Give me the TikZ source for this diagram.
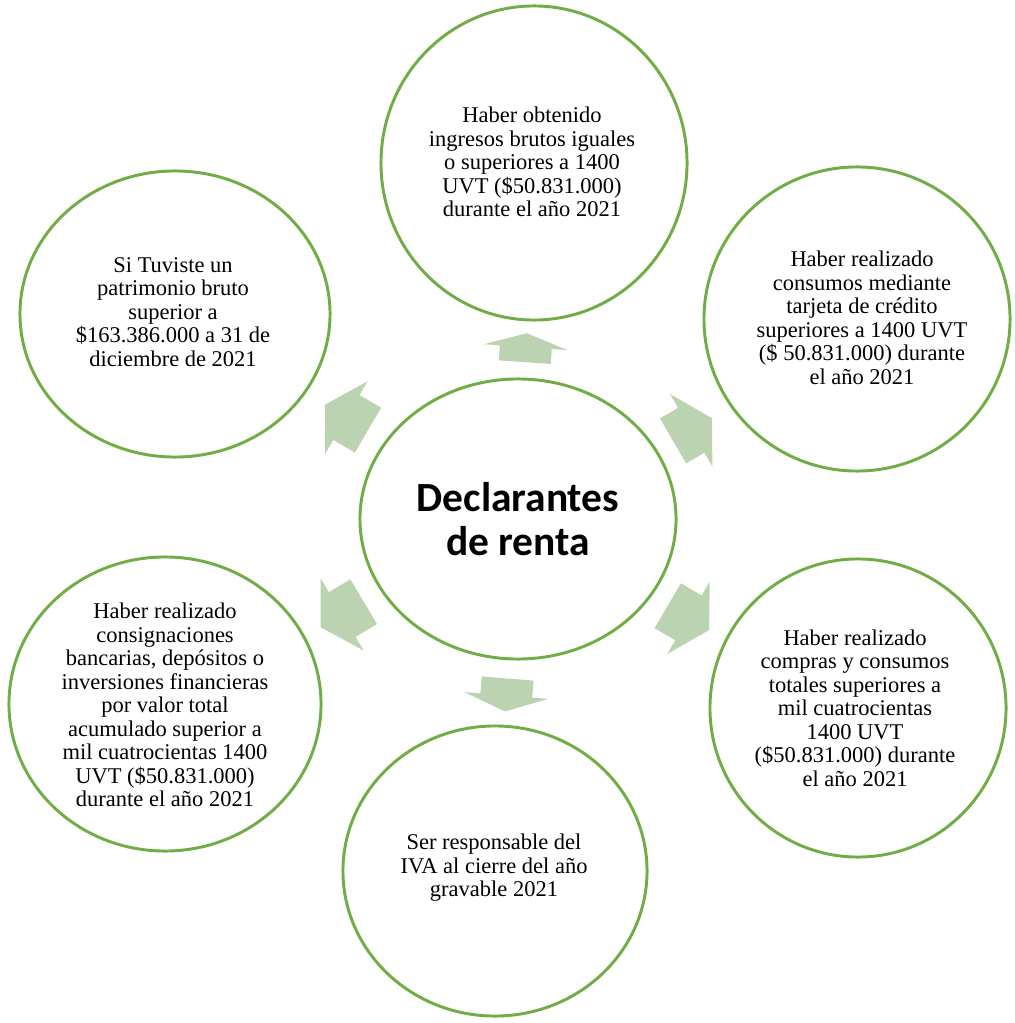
\documentclass[tikz,border=0pt]{standalone}
\usepackage{fontspec}
\setmainfont{Liberation Serif}
\newfontfamily\calibri{Carlito}
\usetikzlibrary{shapes.geometric}
\definecolor{ring_green}{RGB}{112, 173, 71}
\definecolor{arrow_green}{RGB}{187, 211, 177}
\tikzstyle{bubble}=[ellipse,draw=ring_green,line width=2.1pt,inner sep=0pt]
\tikzstyle{hub}=[bubble,align=center,font=\calibri\bfseries\fontsize{29.5}{31.5}\selectfont]
\tikzstyle{txt}=[align=center,inner sep=0pt,font=\fontsize{16}{16.7}\selectfont]
\tikzstyle{blk}=[fill=arrow_green]
% block arrow: base x, base y, angle, head length, shaft length
\newcommand{\blockarrow}[5]{\fill[style=blk,shift={(#1,#2)},rotate=#3]
  (-#5,-26) -- (0,-26) -- (0,-42) -- (#4,0) -- (0,42) -- (0,26) -- (-#5,26) -- cycle;}

\begin{document}
\begin{tikzpicture}[x=0.025cm,y=-0.025cm]
            \useasboundingbox (0,0) rectangle (1014,1023);
            \node [style=hub,minimum width=7.9cm,minimum height=7cm] (0) at (518,519) {Declarantes\\de renta};
            \node [style=bubble,minimum width=7.65cm,minimum height=7.85cm] (1) at (534,163) {};
            \node [style=bubble,minimum width=7.65cm,minimum height=7.6cm] (2) at (857,319) {};
            \node [style=bubble,minimum width=7.4cm,minimum height=7.45cm] (3) at (858,708) {};
            \node [style=bubble,minimum width=7.6cm,minimum height=7.25cm] (4) at (495,871) {};
            \node [style=bubble,minimum width=7.8cm,minimum height=7.35cm] (5) at (165,704) {};
            \node [style=bubble,minimum width=7.75cm,minimum height=7.15cm] (6) at (175,314) {};
            \node [style=txt] (7) at (532,162) {Haber obtenido\\ingresos brutos iguales\\o superiores a 1400\\UVT (\$50.831.000)\\durante el año 2021};
            \node [style=txt] (8) at (862,318) {Haber realizado\\consumos mediante\\tarjeta de crédito\\superiores a 1400 UVT\\(\$ 50.831.000) durante\\el año 2021};
            \node [style=txt] (9) at (855,708) {Haber realizado\\compras y consumos\\totales superiores a\\mil cuatrocientas\\1400 UVT\\(\$50.831.000) durante\\el año 2021};
            \node [style=txt] (10) at (494,868) {Ser responsable del\\IVA al cierre del año\\gravable 2021};
            \node [style=txt] (11) at (165,705) {Haber realizado\\consignaciones\\bancarias, depósitos o\\inversiones financieras\\por valor total\\acumulado superior a\\mil cuatrocientas 1400\\UVT (\$50.831.000)\\durante el año 2021};
            \node [style=txt] (12) at (173,312) {Si Tuviste un\\patrimonio bruto\\superior a\\\$163.386.000 a 31 de\\diciembre de 2021};
            \blockarrow{525.8}{347.2}{86}{14}{15}
            \blockarrow{691.2}{430.3}{30.3}{24}{21}
            \blockarrow{688.4}{617.9}{-30.5}{24}{24}
            \blockarrow{506.3}{695.5}{-94.6}{16}{17}
            \blockarrow{342.2}{614.5}{210.8}{25}{25}
            \blockarrow{346.4}{417.5}{149.7}{25}{25}
\end{tikzpicture}
\end{document}
